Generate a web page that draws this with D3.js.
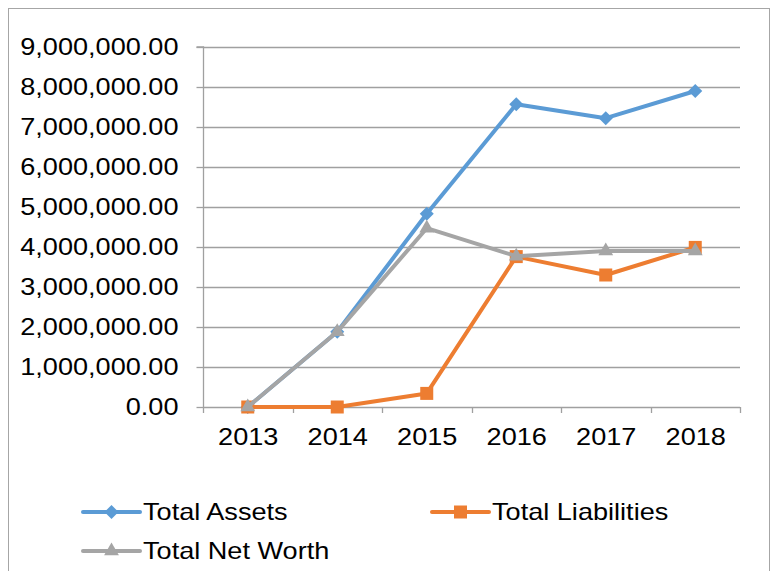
<!DOCTYPE html>
<html><head><meta charset="utf-8">
<script src="https://cdn.jsdelivr.net/npm/d3@7"></script>
<style>body{margin:0;background:#fff}svg{display:block}text{font-family:"Liberation Sans",Arial,sans-serif;fill:#000}</style>
</head><body>
<svg id="c" width="771" height="571"></svg>
<script>
const categories = ["2013","2014","2015","2016","2017","2018"];
const totalAssets = [0, 1880000, 4830000, 7570000, 7220000, 7900000];
const totalLiabilities = [0, 0, 340000, 3760000, 3300000, 3990000];
const totalNetWorth = [0, 1880000, 4470000, 3770000, 3900000, 3900000];
const yTicks = [0,1000000,2000000,3000000,4000000,5000000,6000000,7000000,8000000,9000000];
const seriesNames = ["Total Assets","Total Liabilities","Total Net Worth"];

const svg = d3.select("#c");
svg.append("rect").attr("x",8.5).attr("y",8.5).attr("width",761).attr("height",580)
  .attr("fill","#fff").attr("stroke","#a6a6a6").attr("stroke-width",1);

const L=203,R=740,T=47,B=407;
const x = d3.scalePoint().domain(categories).range([L,R]).padding(0.5);
const step = (R-L)/categories.length;
const y = d3.scaleLinear().domain([0,9000000]).range([B,T]);
const fs = 24, sx = 1.13;
const fmt = d3.format(",.2f");

// gridlines
svg.append("g").selectAll("line").data(yTicks.filter(d=>d>0)).join("line")
  .attr("x1",L).attr("x2",R).attr("y1",d=>Math.round(y(d))+0.5).attr("y2",d=>Math.round(y(d))+0.5)
  .attr("stroke","#a0a0a0").attr("stroke-width",1.3);

// y axis
const ya = svg.append("g").attr("transform",`translate(${L+0.5},0)`)
  .call(d3.axisLeft(y).tickValues(yTicks).tickFormat(fmt).tickSize(7).tickPadding(18));
ya.select(".domain").attr("stroke","#a0a0a0").attr("stroke-width",1.3).attr("d",`M-7,${T}H0V${B}`);
ya.selectAll(".tick line").attr("stroke","#a0a0a0").attr("stroke-width",1.3);
ya.selectAll(".tick text").attr("font-size",fs).attr("font-family","Liberation Sans, Arial, sans-serif").attr("fill","#000")
  .attr("x",-25/sx).attr("transform",`scale(${sx},1)`);

// x axis
const xa = svg.append("g").attr("transform",`translate(0,${B+0.5})`)
  .call(d3.axisBottom(x).tickSize(0).tickPadding(20));
xa.select(".domain").attr("stroke","#a0a0a0").attr("stroke-width",1.3).attr("d",`M${L},0H${R}`);
xa.selectAll(".tick text").attr("font-size",fs).attr("font-family","Liberation Sans, Arial, sans-serif").attr("fill","#000")
  .attr("transform",`scale(${sx},1)`);
// category boundary ticks
svg.append("g").selectAll("line").data(d3.range(categories.length+1)).join("line")
  .attr("x1",i=>Math.round(L+i*step)+0.5).attr("x2",i=>Math.round(L+i*step)+0.5)
  .attr("y1",B).attr("y2",B+6).attr("stroke","#a0a0a0").attr("stroke-width",1.3);

const colors = ["#5B9BD5","#ED7D31","#A5A5A5"];
const diamond = {draw(ctx,size){const r=Math.sqrt(size/2);ctx.moveTo(0,-r);ctx.lineTo(r,0);ctx.lineTo(0,r);ctx.lineTo(-r,0);ctx.closePath();}};
const shapes = [diamond, d3.symbolSquare, d3.symbolTriangle];
const sizes = [98, 169, 95];
const data = [totalAssets,totalLiabilities,totalNetWorth];
const line = d3.line().x((d,i)=>x(categories[i])).y(d=>y(d));

data.forEach((vals,k)=>{
  const g = svg.append("g");
  g.append("path").attr("d",line(vals)).attr("fill","none").attr("stroke",colors[k])
    .attr("stroke-width",4).attr("stroke-linejoin","round").attr("stroke-linecap","round");
  g.selectAll("path.m").data(vals).join("path").attr("class","m")
    .attr("transform",(d,i)=>`translate(${x(categories[i])},${y(d)})`)
    .attr("d",d3.symbol().type(shapes[k]).size(sizes[k])).attr("fill",colors[k]);
});

// legend
const leg = [{x:83,y:512},{x:432,y:512},{x:83,y:551}];
seriesNames.forEach((n,k)=>{
  const g = svg.append("g").attr("transform",`translate(${leg[k].x},${leg[k].y})`);
  g.append("line").attr("x1",0).attr("x2",57).attr("y1",0).attr("y2",0).attr("stroke",colors[k]).attr("stroke-width",4).attr("stroke-linecap","round");
  g.append("path").attr("transform","translate(28.5,0)").attr("d",d3.symbol().type(shapes[k]).size(sizes[k])).attr("fill",colors[k]);
  g.append("text").attr("transform",`translate(60,0) scale(${sx},1)`).attr("dy","0.35em").attr("font-size",fs).text(n);
});
</script>
</body></html>
